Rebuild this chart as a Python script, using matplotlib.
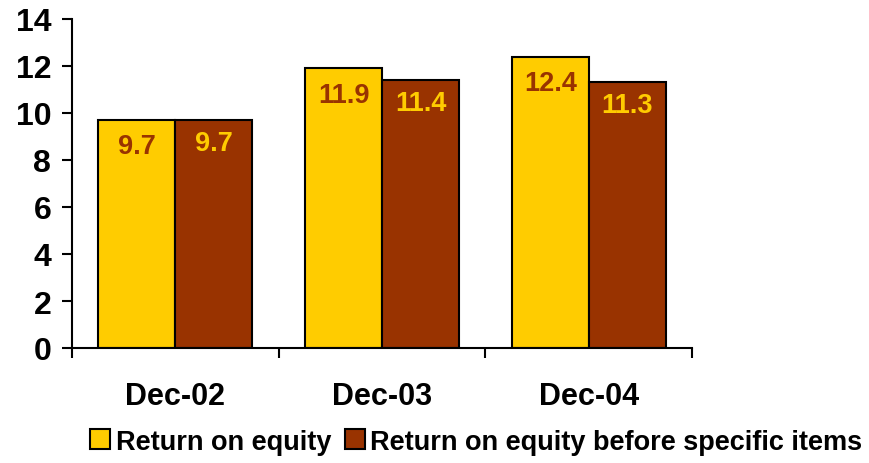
import matplotlib
matplotlib.use("Agg")
import matplotlib.pyplot as plt
from matplotlib.patches import Patch
import numpy as np

categories = ["Dec-02", "Dec-03", "Dec-04"]
roe = [9.7, 11.9, 12.4]
roe_before = [9.7, 11.4, 11.3]
series_names = ["Return on equity", "Return on equity before specific items"]
yticks = [0, 2, 4, 6, 8, 10, 12, 14]

YEL = "#FFCC00"
BRN = "#993300"

plt.rcParams['font.family'] = ['Liberation Sans', 'DejaVu Sans']
plt.rcParams['font.weight'] = 'bold'

fig = plt.figure(figsize=(8.69, 4.64), dpi=100)
ax = fig.add_axes([72/869, 1-349/464, (692-72)/869, (349-20)/464])

x = np.arange(len(categories))
w = 0.372
b1 = ax.bar(x - w/2, roe, w, color=YEL, edgecolor='black', linewidth=1.5)
b2 = ax.bar(x + w/2, roe_before, w, color=BRN, edgecolor='black', linewidth=1.5)

for rect, v in zip(b1, roe):
    ax.annotate(f"{v:.1f}", (rect.get_x() + rect.get_width()/2, v),
                xytext=(0, -19), textcoords='offset points', ha='center', va='center',
                color=BRN, fontsize=19.5, fontweight='bold')
for rect, v in zip(b2, roe_before):
    ax.annotate(f"{v:.1f}", (rect.get_x() + rect.get_width()/2, v),
                xytext=(0, -16.5), textcoords='offset points', ha='center', va='center',
                color=YEL, fontsize=19.5, fontweight='bold')

ax.set_ylim(0, 14)
ax.set_xlim(-0.5, len(categories) - 0.5)
ax.set_yticks(yticks)
ax.set_yticklabels([str(t) for t in yticks], fontsize=23, fontweight='bold')
ax.set_xticks(np.arange(len(categories) + 1) - 0.5)
ax.set_xticklabels([])
ax.set_xticks(x, minor=True)
ax.set_xticklabels(categories, minor=True, fontsize=22, fontweight='bold')
ax.tick_params(axis='x', which='major', direction='out', length=7, width=1.5)
ax.tick_params(axis='x', which='minor', length=0, pad=24)
ax.tick_params(axis='y', direction='out', length=7, width=1.5, pad=8)
for s in ['top', 'right']:
    ax.spines[s].set_visible(False)
for s in ['left', 'bottom']:
    ax.spines[s].set_linewidth(1.5)

handles = [Patch(facecolor=YEL, edgecolor='black', linewidth=1.5),
           Patch(facecolor=BRN, edgecolor='black', linewidth=1.5)]
fig.legend(handles, series_names, loc='center', bbox_to_anchor=(0.548, 0.046),
           ncol=2, frameon=False, prop={'size': 19.5, 'weight': 'bold'},
           handlelength=0.75, handleheight=0.75, handletextpad=0.2, columnspacing=0.5)

fig.savefig("out.png", dpi=100)
